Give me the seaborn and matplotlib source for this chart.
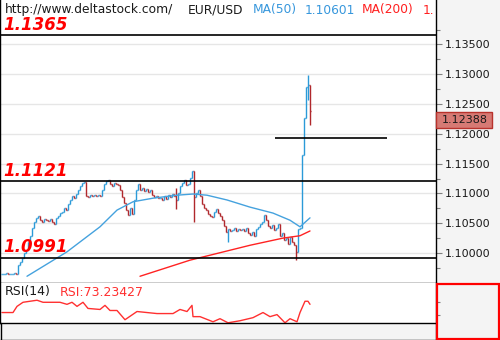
import matplotlib
matplotlib.use("Agg")
import matplotlib.pyplot as plt
import seaborn as sns
import pandas as pd
import numpy as np
from matplotlib.patches import Rectangle
from matplotlib.lines import Line2D
from matplotlib.ticker import FixedLocator, FormatStrFormatter

sns.set_theme(style="white")
plt.rcParams['font.family'] = ['DejaVu Sans']

# ---------------- data ----------------
closes = [
    1.0965, 1.0965, 1.0966, 1.0965, 1.0965, 1.0965, 1.0966, 1.0965, 1.0980, 1.0985,
    1.0992, 1.1000, 1.1005, 1.1018, 1.1029, 1.1042, 1.1052, 1.1059, 1.1062, 1.1055,
    1.1052, 1.1057, 1.1055, 1.1054, 1.1057, 1.1052, 1.1049, 1.1059, 1.1062, 1.1067,
    1.1069, 1.1076, 1.1072, 1.1082, 1.1089, 1.1096, 1.1092, 1.1099, 1.1106, 1.1112,
    1.1117, 1.1119, 1.1096, 1.1094, 1.1097, 1.1096, 1.1097, 1.1096, 1.1097, 1.1096,
    1.1106, 1.1116, 1.1121, 1.1122, 1.1116, 1.1112, 1.1117, 1.1116, 1.1114, 1.1106,
    1.1094, 1.1084, 1.1072, 1.1064, 1.1076, 1.1065, 1.1089, 1.1106, 1.1116, 1.1106,
    1.1109, 1.1104, 1.1107, 1.1102, 1.1106, 1.1097, 1.1094, 1.1096, 1.1092, 1.1092,
    1.1089, 1.1096, 1.1091, 1.1097, 1.1094, 1.1099, 1.1096, 1.1089, 1.1101, 1.1112,
    1.1117, 1.1122, 1.1114, 1.1116, 1.1126, 1.1138, 1.1094, 1.1101, 1.1106, 1.1096,
    1.1082, 1.1076, 1.1072, 1.1065, 1.1062, 1.1060, 1.1069, 1.1074, 1.1067, 1.1062,
    1.1055, 1.1045, 1.1035, 1.1040, 1.1037, 1.1039, 1.1042, 1.1037, 1.1040, 1.1039,
    1.1040, 1.1037, 1.1042, 1.1034, 1.1030, 1.1035, 1.1029, 1.1040, 1.1044, 1.1049,
    1.1052, 1.1064, 1.1055, 1.1045, 1.1042, 1.1047, 1.1039, 1.1042, 1.1049, 1.1029,
    1.1034, 1.1022, 1.1025, 1.1015, 1.1027, 1.1018, 1.1013, 1.1002, 1.1040, 1.1042,
    1.1164, 1.1227, 1.1279, 1.1282, 1.12388,
]
# bars whose high/low reach beyond open/close: index -> (high, low)
wicks = {87: (1.1109, 1.1074), 96: (1.1138, 1.1052), 113: (1.1040, 1.1019),
         147: (1.1013, 1.0988), 151: (1.1227, 1.1190), 153: (1.1299, 1.1257),
         154: (1.1274, 1.1215)}

ma50_x = [12.5, 32.5, 49, 57.5, 65.5, 75.5, 87.5, 95.5, 102.5, 112.5, 124, 135.5, 144, 149, 154]
ma50_y = [1.0961, 1.1002, 1.1044, 1.1072, 1.1086, 1.1092, 1.1097, 1.1099, 1.1097,
          1.1089, 1.1077, 1.1067, 1.1055, 1.1044, 1.1059]
ma200_x = [69, 94, 124, 140.5, 149, 154]
ma200_y = [1.0961, 1.0988, 1.1013, 1.1025, 1.1029, 1.1037]

rsi_x = [0, 5.5, 7.5, 10.5, 17.5, 20.5, 29, 32.5, 35, 37.5, 40.5, 43, 49, 51.5, 54, 57.5,
         61.5, 67.5, 72.5, 77.5, 80.5, 85.5, 89, 92.5, 95, 95.5, 99, 105.5, 109, 113, 119,
         125.5, 130.5, 134, 137.5, 141.5, 144, 147.5, 149, 151.5, 153, 154]
rsi_y = [65.2, 65.2, 71.2, 75.2, 77.2, 75.2, 75.2, 73.2, 75.2, 71.2, 75.2, 69.2, 68.2, 72.2,
         67.2, 67.2, 58.2, 66.2, 65.2, 64.2, 64.2, 64.2, 68.2, 66.2, 72.2, 61.2, 61.2, 56.2,
         59.2, 55.2, 57.2, 60.2, 65.2, 61.2, 63.2, 55.2, 59.2, 56.2, 65.2, 76.2, 76.2, 73.2]

levels = [1.1365, 1.1121, 1.0991]
level_labels = ["1.1365", "1.1121", "1.0991"]
target_level = 1.1193
target_span = (136.5, 192.5)
last_price = "1.12388"
ma50_last = "1.10601"
rsi_last = "RSI:73.23427"

major_ticks = [1.100, 1.105, 1.110, 1.115, 1.120, 1.125, 1.130, 1.135]
minor_ticks = [1.0975, 1.1025, 1.1075, 1.1125, 1.1175, 1.1225, 1.1275, 1.1325, 1.1375]

# ---------------- layout ----------------
W, H = 500, 340
def fx(px): return px / W
def fy(py): return 1 - py / H

UP = '#2b9ad8'
DOWN = '#b0282c'
MA50_C = '#45a2de'
MA200_C = '#ff2222'
GRAY_BG = '#f4f4f4'

fig = plt.figure(figsize=(5, 3.4), dpi=100, facecolor=GRAY_BG)
ax = fig.add_axes([0, fy(283), 436 / W, 283 / H])
rax = fig.add_axes([0, fy(323), 436 / W, 40 / H])

for a in (ax, rax):
    a.set_facecolor('white')
    a.set_xlim(-1, 217)
    a.set_xticks([])
    for s in a.spines.values():
        s.set_color('black')
        s.set_linewidth(1.0)
    a.spines['top'].set_visible(False)

ax.set_ylim(1.09497, 1.14245)

# grid
for t in major_ticks:
    ax.axhline(t, color='#e6e6e6', lw=1.0, zorder=0)

# OHLC bars
xs, o_l, c_l, h_l, lo_l, cols = [], [], [], [], [], []
for i, c in enumerate(closes):
    o = closes[i - 1] if i > 0 else c
    hi, lo = wicks.get(i, (max(o, c), min(o, c)))
    hi = max(hi, o, c)
    lo = min(lo, o, c)
    xs.append(i); o_l.append(o); c_l.append(c); h_l.append(hi); lo_l.append(lo)
    cols.append(UP if c >= o else DOWN)
xs = np.array(xs, dtype=float)
ax.vlines(xs, lo_l, h_l, colors=cols, lw=1.0, zorder=3)
ax.hlines(o_l, xs - 0.6, xs, colors=cols, lw=1.0, zorder=3)
ax.hlines(c_l, xs, xs + 0.6, colors=cols, lw=1.0, zorder=3)

# moving averages
sns.lineplot(x=ma50_x, y=ma50_y, ax=ax, color=MA50_C, lw=1.0, estimator=None, sort=False, zorder=4)
sns.lineplot(x=ma200_x, y=ma200_y, ax=ax, color=MA200_C, lw=1.0, estimator=None, sort=False, zorder=4)

# horizontal levels
for lv in levels:
    ax.axhline(lv, color='black', lw=1.2, zorder=5)
ax.hlines(target_level, target_span[0], target_span[1], color='black', lw=1.2, zorder=5)

# right price axis
ax.yaxis.tick_right()
ax.yaxis.set_major_locator(FixedLocator(major_ticks))
ax.yaxis.set_minor_locator(FixedLocator(minor_ticks))
ax.yaxis.set_major_formatter(FormatStrFormatter('%.5f'))
ax.tick_params(axis='y', which='major', length=4.5, width=0.8, color='#808080',
               labelsize=8, labelcolor='#1a1a1a', pad=1.5, right=True, left=False)
ax.tick_params(axis='y', which='minor', length=3, width=0.8, color='#808080', right=True, left=False)
ax.set_xlabel(''); ax.set_ylabel('')

# RSI
sns.lineplot(x=rsi_x, y=rsi_y, ax=rax, color='#ff3030', lw=1.0, estimator=None, sort=False)
rax.set_ylim(55, 94)
rax.yaxis.tick_right()
rax.set_yticks([63.2, 75.2])
rax.set_yticklabels([])
rax.tick_params(axis='y', length=3, width=0.8, color='#808080', right=True, left=False)
rax.set_xlabel(''); rax.set_ylabel('')

# ---------------- texts ----------------
HF = 8.8
fig.text(fx(5), fy(10), 'http://www.deltastock.com/', fontsize=HF, color='#1a1a1a', va='center')
fig.text(fx(188), fy(10), 'EUR/USD', fontsize=HF, color='#1a1a1a', va='center')
fig.text(fx(253), fy(10), 'MA(50)', fontsize=HF, color='#3797dc', va='center')
fig.text(fx(305), fy(10), ma50_last, fontsize=HF, color='#3797dc', va='center')
fig.text(fx(362), fy(10), 'MA(200)', fontsize=HF, color='#ff2020', va='center')
fig.text(fx(423), fy(10), '1.', fontsize=HF, color='#ff2020', va='center')

label_y = [24.5, 171, 247]
for lab, py in zip(level_labels, label_y):
    fig.text(fx(3), fy(py), lab, fontsize=12, fontweight='bold', fontstyle='italic',
             color='#ff0000', va='center')

fig.text(fx(5), fy(292), 'RSI(14)', fontsize=9, color='#1a1a1a', va='center')
fig.text(fx(60), fy(292), rsi_last, fontsize=9, color='#ff3030', va='center')

# last price box
fig.patches.append(Rectangle((fx(436), fy(128)), 56 / W, 16 / H, transform=fig.transFigure,
                             facecolor='#d67a74', edgecolor='#b8322c', lw=1.0, zorder=10))
fig.text(fx(442), fy(120), last_price, fontsize=8, color='#1a1a1a', va='center', zorder=11)

# red box in the RSI scale area
fig.patches.append(Rectangle((fx(437), fy(339)), 62 / W, 55.5 / H, transform=fig.transFigure,
                             fill=False, edgecolor='#ff0000', lw=1.6, zorder=10))
# frame lines
fig.lines.append(Line2D([0, fx(436)], [fy(339.5), fy(339.5)], transform=fig.transFigure,
                        color='black', lw=1.0))
fig.lines.append(Line2D([fx(0.5), fx(0.5)], [fy(323), fy(339.5)], transform=fig.transFigure,
                        color='black', lw=1.0))
fig.lines.append(Line2D([fx(435.7), fx(435.7)], [fy(323), fy(340)], transform=fig.transFigure,
                        color='black', lw=1.0))

fig.savefig('out.png', dpi=100, facecolor=GRAY_BG)
